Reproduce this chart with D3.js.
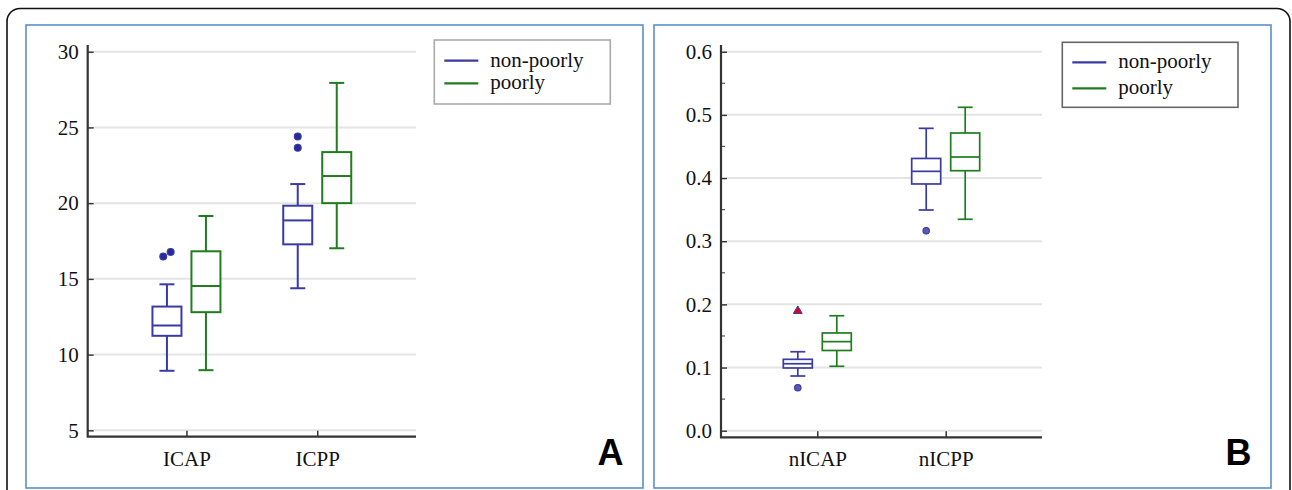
<!DOCTYPE html>
<html>
<head>
<style>
	body { margin: 0; background: #fff; }
	svg { display: block; }
	text { font-family: "Liberation Serif", "Times New Roman", "DejaVu Serif", serif; fill: #111; }
	.panel-letter { font-family: "Liberation Sans", Arial, sans-serif; font-weight: bold; fill: #000; }
</style>
</head>
<body>
<svg width="1292" height="490"></svg>
<script src="https://cdn.jsdelivr.net/npm/d3@7"></script>
<script>
// ---- data ----
var seriesNames = ["non-poorly", "poorly"];
var groupsA = ["ICAP", "ICPP"];
var groupsB = ["nICAP", "nICPP"];

// [lower whisker, q1, median, q3, upper whisker] per group
var nonPoorlyA = [[8.93, 11.24, 11.92, 13.17, 14.64], [14.38, 17.28, 18.86, 19.83, 21.26]];
var poorlyA = [[8.97, 12.8, 14.53, 16.82, 19.15], [17.02, 20.0, 21.79, 23.37, 27.94]];
var nonPoorlyOutA = [[16.47, 16.78], [23.65, 24.4]];
var poorlyOutA = [[], []];

var nonPoorlyB = [[0.0866, 0.0993, 0.106, 0.113, 0.125], [0.3494, 0.3906, 0.4106, 0.431, 0.4787]];
var poorlyB = [[0.102, 0.127, 0.141, 0.1547, 0.182], [0.3347, 0.4116, 0.4333, 0.4713, 0.512]];
var nonPoorlyOutB = [[0.068], [0.3166]];
var nonPoorlyFarOutB = [[0.1895], []];
var poorlyOutB = [[], []];

var ticksA = [5, 10, 15, 20, 25, 30];
var ticksB = [0, 0.1, 0.2, 0.3, 0.4, 0.5, 0.6];
var minorTicksB = [0.05, 0.15, 0.25, 0.35, 0.45, 0.55];

var colors = ["#3a3aa6", "#1f7d1f"];
var serif = "'Liberation Serif', 'Times New Roman', 'DejaVu Serif', serif";

var svg = d3.select("svg");

// outer frame + panel frames
svg.append("rect")
	.attr("x", 7).attr("y", 8.5).attr("width", 1283).attr("height", 520)
	.attr("rx", 13).attr("fill", "none").attr("stroke", "#111").attr("stroke-width", 1.6);
[26, 654].forEach(function(px) {
	svg.append("rect")
		.attr("x", px).attr("y", 25).attr("width", 617).attr("height", 463)
		.attr("fill", "none").attr("stroke", "#5b8fd0").attr("stroke-width", 1.6);
});

function drawPanel(cfg) {
	var g = svg.append("g");

	var y = d3.scaleLinear().domain(cfg.domain).range([cfg.yBottom, cfg.yTop]);
	var x = d3.scalePoint().domain(cfg.groups).range([cfg.xLeft, cfg.xRight]).padding(cfg.pad);

	// gridlines
	g.append("g").selectAll("line")
		.data(cfg.ticks)
		.enter().append("line")
		.attr("x1", cfg.xLeft + 6).attr("x2", cfg.xRight)
		.attr("y1", function(d) { return y(d); })
		.attr("y2", function(d) { return y(d); })
		.attr("stroke", "#e4e4e4").attr("stroke-width", 2);

	// y axis
	var yAxis = d3.axisLeft(y).tickValues(cfg.ticks).tickSize(-6).tickPadding(9).tickFormat(cfg.fmt);
	var ya = g.append("g").attr("transform", "translate(" + cfg.xLeft + ",0)").call(yAxis)
		.attr("font-family", serif).attr("font-size", 21);
	ya.select(".domain").remove();
	ya.selectAll(".tick line").attr("stroke", "#333").attr("stroke-width", 1.5);
	ya.selectAll("text").attr("fill", "#111");

	if (cfg.minor) {
		g.append("g").selectAll("line")
			.data(cfg.minor)
			.enter().append("line")
			.attr("x1", cfg.xLeft).attr("x2", cfg.xLeft + 4)
			.attr("y1", function(d) { return y(d); })
			.attr("y2", function(d) { return y(d); })
			.attr("stroke", "#555").attr("stroke-width", 1.2);
	}

	// x axis
	var xAxis = d3.axisBottom(x).tickSize(-6).tickPadding(14);
	var xa = g.append("g").attr("transform", "translate(0," + cfg.xAxisY + ")").call(xAxis)
		.attr("font-family", serif).attr("font-size", 21);
	xa.select(".domain").remove();
	xa.selectAll(".tick line").attr("stroke", "#333").attr("stroke-width", 1.5);
	xa.selectAll("text").attr("fill", "#111");

	// axis lines
	g.append("path")
		.attr("d", "M" + cfg.xLeft + "," + cfg.axisTop + "V" + cfg.xAxisY + "H" + cfg.xRight)
		.attr("fill", "none").attr("stroke", "#333").attr("stroke-width", 2.2);

	// boxes
	var offsets = [-19.5, 19.5];
	var boxW = 29, capW = 15;
	cfg.stats.forEach(function(stats, si) {
		var col = colors[si];
		stats.forEach(function(s, gi) {
			var cx = x(cfg.groups[gi]) + offsets[si];
			var bg = g.append("g").attr("fill", "none").attr("stroke", col).attr("stroke-width", cfg.lw);
			bg.append("line").attr("x1", cx).attr("x2", cx).attr("y1", y(s[0])).attr("y2", y(s[1]));
			bg.append("line").attr("x1", cx).attr("x2", cx).attr("y1", y(s[3])).attr("y2", y(s[4]));
			bg.append("line").attr("x1", cx - capW / 2).attr("x2", cx + capW / 2).attr("y1", y(s[0])).attr("y2", y(s[0]));
			bg.append("line").attr("x1", cx - capW / 2).attr("x2", cx + capW / 2).attr("y1", y(s[4])).attr("y2", y(s[4]));
			bg.append("rect").attr("x", cx - boxW / 2).attr("y", y(s[3]))
				.attr("width", boxW).attr("height", y(s[1]) - y(s[3])).attr("fill", "#fff");
			bg.append("line").attr("x1", cx - boxW / 2).attr("x2", cx + boxW / 2).attr("y1", y(s[2])).attr("y2", y(s[2]));

			// outliers, nudged sideways when they would overlap
			var outs = cfg.outliers[si][gi].slice().sort(d3.ascending);
			var shift = outs.map(function() { return 0; });
			for (var i = 1; i < outs.length; i++) {
				if (Math.abs(y(outs[i]) - y(outs[i - 1])) < 2 * cfg.r + 1) {
					shift[i - 1] = -3.7; shift[i] = 3.7;
				}
			}
			g.selectAll(null)
				.data(outs)
				.enter().append("circle")
				.attr("cx", function(d, i) { return cx + shift[i]; })
				.attr("cy", function(d) { return y(d); })
				.attr("r", cfg.r)
				.attr("fill", cfg.outFill[si])
				.attr("stroke", col).attr("stroke-width", 1.2);

			if (cfg.farOut) {
				g.selectAll(null)
					.data(cfg.farOut[si][gi])
					.enter().append("path")
					.attr("transform", function(d) { return "translate(" + cx + "," + y(d) + ")"; })
					.attr("d", d3.symbol().type(d3.symbolTriangle).size(34))
					.attr("fill", "#e0001a").attr("stroke", "#3a3aa6").attr("stroke-width", 1);
			}
		});
	});

	// legend
	var L = cfg.legend;
	g.append("rect").attr("x", L.x).attr("y", L.y).attr("width", L.w).attr("height", L.h)
		.attr("fill", "#fff").attr("stroke", L.stroke).attr("stroke-width", 1.6);
	seriesNames.forEach(function(name, i) {
		var ly = L.y + L.first + i * L.step;
		g.append("line").attr("x1", L.x + 10).attr("x2", L.x + 44)
			.attr("y1", ly).attr("y2", ly)
			.attr("stroke", colors[i]).attr("stroke-width", 2.2);
		g.append("text").attr("x", L.x + 56).attr("y", ly + 6)
			.attr("font-family", serif).attr("font-size", 21)
			.style("font-family", serif).text(name);
	});

	g.append("text").attr("class", "panel-letter")
		.attr("x", cfg.letterX).attr("y", 464.5)
		.style("font-size", "36px").text(cfg.letter);
}

drawPanel({
	groups: groupsA, domain: [5, 30], ticks: ticksA, fmt: d3.format("d"),
	yBottom: 430.3, yTop: 51.7, xLeft: 87.7, xRight: 416, pad: 0.755,
	xAxisY: 436.7, axisTop: 45, lw: 2,
	stats: [nonPoorlyA, poorlyA], outliers: [nonPoorlyOutA, poorlyOutA],
	outFill: ["#2a2a96", "#1f7d1f"], r: 3.4,
	legend: { x: 434.3, y: 40, w: 176, h: 64, first: 20.7, step: 22.6, stroke: "#aaa" },
	letter: "A", letterX: 597.5
});

drawPanel({
	groups: groupsB, domain: [0, 0.6], ticks: ticksB, fmt: d3.format(".1f"),
	minor: minorTicksB,
	yBottom: 430.7, yTop: 51.7, xLeft: 721, xRight: 1042, pad: 0.75,
	xAxisY: 437.3, axisTop: 45, lw: 1.7,
	stats: [nonPoorlyB, poorlyB], outliers: [nonPoorlyOutB, poorlyOutB],
	farOut: [nonPoorlyFarOutB, [[], []]],
	outFill: ["#5a5ab8", "#1f7d1f"], r: 3.2,
	legend: { x: 1062.3, y: 42.3, w: 175.7, h: 65, first: 20, step: 26, stroke: "#666" },
	letter: "B", letterX: 1225.5
});
</script>
</body>
</html>
